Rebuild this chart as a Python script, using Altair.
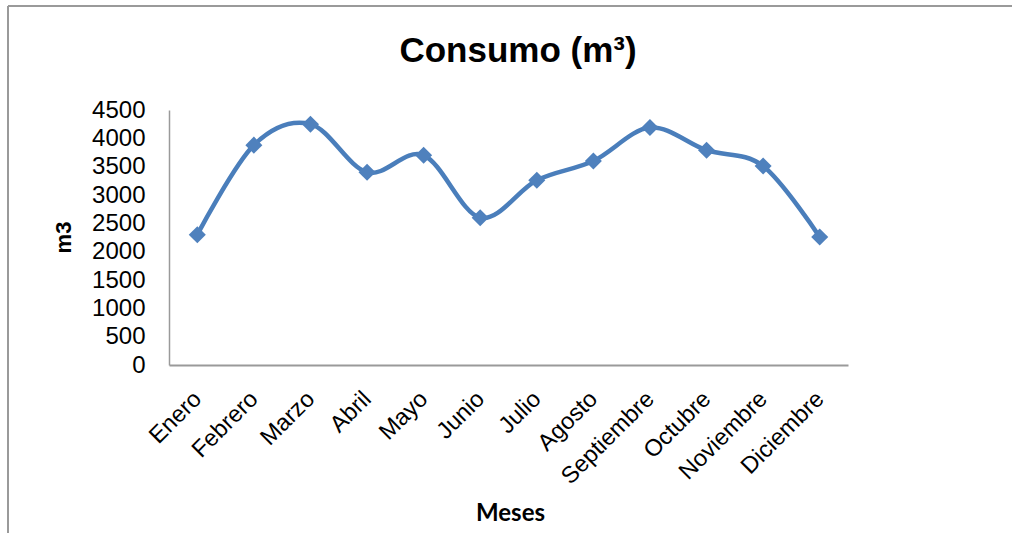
import altair as alt
import pandas as pd

meses = ["Enero", "Febrero", "Marzo", "Abril", "Mayo", "Junio", "Julio",
         "Agosto", "Septiembre", "Octubre", "Noviembre", "Diciembre"]
consumo = [2300, 3880, 4250, 3400, 3700, 2600, 3260, 3600, 4190, 3790, 3510, 2260]
titulo = ["Consumo (m³)"]

df = pd.DataFrame({"Mes": meses, "Consumo": consumo})

W, H = 679, 255
PL, PT = 169, 110

x = alt.X("Mes:N", sort=meses, scale=alt.Scale(padding=0.5),
          axis=alt.Axis(title="Meses", labelAngle=-45, labelAlign="right", labelBaseline="middle",
                        labelPadding=30, ticks=False, domainColor="#9a9a9a", domainWidth=2,
                        labelFont="Liberation Sans", labelFontSize=23.5, labelColor="#000000",
                        titleFont="Lato", titleFontSize=24, titleFontWeight="bold",
                        titleColor="#000000", titleX=341, titleY=148,
                        titleAlign="center", titleBaseline="middle", grid=False))
y = alt.Y("Consumo:Q", scale=alt.Scale(domain=[0, 4500]),
          axis=alt.Axis(title="m3", values=list(range(0, 4501, 500)), format="d", ticks=False,
                        labelPadding=24, domainColor="#9a9a9a", domainWidth=1.5,
                        labelFont="Liberation Sans", labelFontSize=24, labelColor="#000000",
                        titleFont="Liberation Sans", titleFontSize=22, titleFontWeight="bold",
                        titleColor="#000000", titleAngle=270, titleX=-106, titleY=127,
                        titleAlign="center", titleBaseline="middle", grid=False))

base = alt.Chart(df)
line = base.mark_line(interpolate="cardinal", color="#4A7EBB", strokeWidth=4.5).encode(x=x, y=y)
pts = base.mark_point(shape="diamond", filled=True, size=290, color="#4F81BD", opacity=1).encode(x=x, y=y)

frame_left = alt.Chart(df).mark_rule(color="#9a9a9a", strokeWidth=1.5).encode(
    x=alt.value(8 - PL), y=alt.value(6 - PT), y2=alt.value(533 - PT))
frame_top = alt.Chart(df).mark_rule(color="#9a9a9a", strokeWidth=1.5).encode(
    x=alt.value(8 - PL), x2=alt.value(1012 - PL), y=alt.value(6 - PT))

title = alt.Chart(pd.DataFrame({"t": titulo})).mark_text(
    font="Liberation Sans", fontSize=35, fontWeight="bold", color="#000000",
    align="center", baseline="alphabetic").encode(
    text="t:N", x=alt.value(518 - PL), y=alt.value(62 - PT))

chart = alt.layer(frame_left, frame_top, line, pts, title).properties(
    width=W, height=H,
    autosize=alt.AutoSizeParams(type="none"),
    padding={"left": PL, "top": PT, "right": 1012 - PL - W, "bottom": 533 - PT - H},
).configure(background="#ffffff").configure_view(stroke=None, strokeWidth=0)

chart.save("out.html", embed_options={"renderer": "svg", "actions": False})
